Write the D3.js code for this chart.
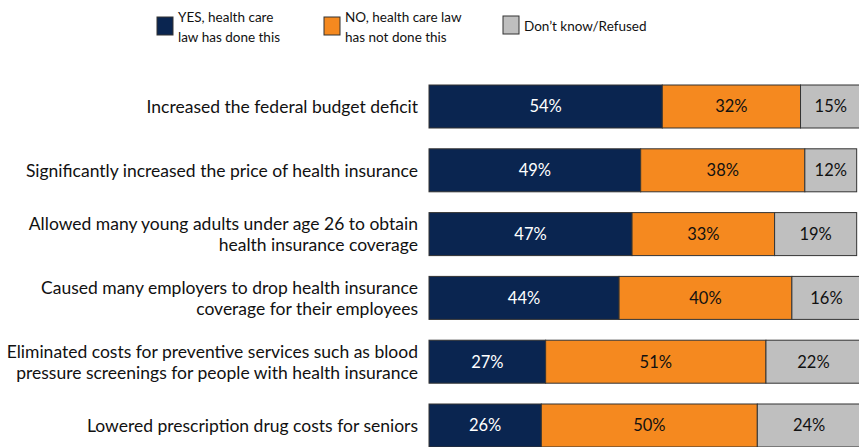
<!DOCTYPE html>
<html lang="en">
<head>
<meta charset="utf-8">
<script src="https://cdn.jsdelivr.net/npm/d3@7"></script>
<style>
  body { margin: 0; background: #fff; }
  text { font-family: Lato, "Open Sans", sans-serif; }
</style>
</head>
<body>
<div id="my_dataviz"></div>
<script>

// categories (each label split into its lines)
const categories = [
    ["Increased the federal budget deficit"],
    ["Significantly increased the price of health insurance"],
    ["Allowed many young adults under age 26 to obtain", "health insurance coverage"],
    ["Caused many employers to drop health insurance", "coverage for their employees"],
    ["Eliminated costs for preventive services such as blood", "pressure screenings for people with health insurance"],
    ["Lowered prescription drug costs for seniors"]
];

const yesValues = [54, 49, 47, 44, 27, 26];
const noValues = [32, 38, 33, 40, 51, 50];
const dkValues = [15, 12, 19, 16, 22, 24];

const seriesNames = [
    ["YES, health care", "law has done this"],
    ["NO, health care law", "has not done this"],
    ["Don\u2019t know/Refused"]
];
const colors = ["#0a2550", "#f5891f", "#bfbfbf"];
const textColors = ["#ffffff", "#111111", "#111111"];

const svgWidth = 859;
const svgHeight = 447;

const svg = d3.select("#my_dataviz")
    .append("svg")
    .attr("width", svgWidth)
    .attr("height", svgHeight);

// scales
const xScale = d3.scaleLinear()
    .domain([0, 100])
    .range([429, 861]);

const yScale = d3.scaleBand()
    .domain(d3.range(categories.length))
    .range([85, 447])
    .paddingInner(0.326)
    .paddingOuter(0);

// stack data
const rows = categories.map((c, i) => ({ i: i, v: [yesValues[i], noValues[i], dkValues[i]] }));
const stack = d3.stack().keys([0, 1, 2]).value((d, k) => d.v[k]);
const series = stack(rows);

const groups = svg.selectAll("g.series")
    .data(series)
    .enter()
    .append("g")
    .attr("class", "series");

groups.selectAll("rect")
    .data((s, k) => s.map(d => ({ d: d, k: k })))
    .enter()
    .append("rect")
    .attr("x", e => xScale(e.d[0]))
    .attr("y", e => yScale(e.d.data.i))
    .attr("width", e => xScale(e.d[1]) - xScale(e.d[0]))
    .attr("height", yScale.bandwidth())
    .attr("fill", e => colors[e.k])
    .attr("stroke", "#333")
    .attr("stroke-width", 1);

groups.selectAll("text")
    .data((s, k) => s.map(d => ({ d: d, k: k })))
    .enter()
    .append("text")
    .attr("x", e => (xScale(e.d[0]) + xScale(Math.min(e.d[1], 100))) / 2)
    .attr("y", e => yScale(e.d.data.i) + yScale.bandwidth() / 2)
    .attr("dy", "0.36em")
    .attr("text-anchor", "middle")
    .attr("fill", e => textColors[e.k])
    .style("font-size", "16.5px")
    .text(e => (e.d[1] - e.d[0]) + "%");

// category labels
const labels = svg.selectAll("text.cat")
    .data(categories)
    .enter()
    .append("text")
    .attr("class", "cat")
    .attr("text-anchor", "end")
    .attr("fill", "#111")
    .style("font-size", "17.5px")
    .attr("transform", (c, i) => `translate(418, ${yScale(i) + yScale.bandwidth() / 2})`);

labels.selectAll("tspan")
    .data(c => c.map((line, j) => ({ line: line, j: j, n: c.length })))
    .enter()
    .append("tspan")
    .attr("x", 0)
    .attr("y", t => (t.j - (t.n - 1) / 2) * 21)
    .attr("dy", "0.36em")
    .text(t => t.line);

// legend
const legendX = [157, 324, 503];
const legend = svg.selectAll("g.legend")
    .data(seriesNames)
    .enter()
    .append("g")
    .attr("class", "legend")
    .attr("transform", (d, i) => `translate(${legendX[i]}, 0)`);

legend.append("rect")
    .attr("x", 0)
    .attr("y", (d, i) => i == 2 ? 16 : 17)
    .attr("width", 16)
    .attr("height", 18)
    .attr("fill", (d, i) => colors[i])
    .attr("stroke", "#333");

legend.append("text")
    .attr("fill", "#111")
    .style("font-size", "13.5px")
    .selectAll("tspan")
    .data(d => d.map((line, j) => ({ line: line, j: j, n: d.length })))
    .enter()
    .append("tspan")
    .attr("x", 21)
    .attr("y", t => t.n == 1 ? 31 : 22 + t.j * 20)
    .text(t => t.line);

</script>
</body>
</html>
